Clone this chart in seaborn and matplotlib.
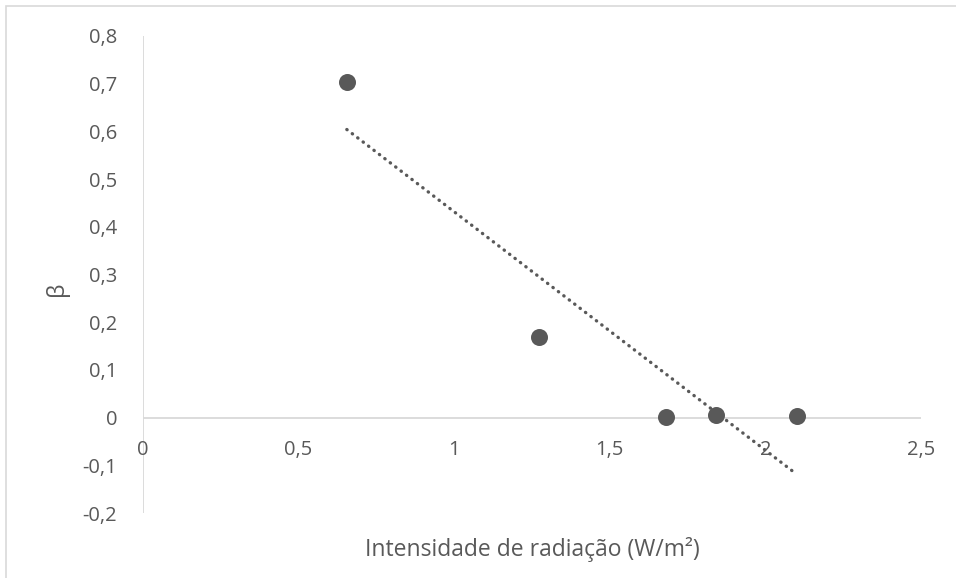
import numpy as np
import pandas as pd
import matplotlib
matplotlib.use("Agg")
import matplotlib.pyplot as plt
import seaborn as sns
from matplotlib.patches import Rectangle

intensity = [0.655, 1.272, 1.68, 1.84, 2.10]
beta = [0.704, 0.168, 0.002, 0.006, 0.004]
x_ticks = [0, 0.5, 1, 1.5, 2, 2.5]
x_tick_labels = ["0", "0,5", "1", "1,5", "2", "2,5"]
y_ticks = [-0.2, -0.1, 0, 0.1, 0.2, 0.3, 0.4, 0.5, 0.6, 0.7, 0.8]
y_tick_labels = ["-0,2", "-0,1", "0", "0,1", "0,2", "0,3", "0,4", "0,5", "0,6", "0,7", "0,8"]

sns.set_style("white")
plt.rcParams['font.family'] = ['Open Sans', 'DejaVu Sans']
txt = "#595959"
grid = "#d9d9d9"

df = pd.DataFrame({"x": intensity, "y": beta})

fig = plt.figure(figsize=(9.56, 5.78), dpi=100)
ax = fig.add_axes([143/956, 65/578, (921-143)/956, (513-36)/578])

# trendline (linear least squares)
slope, icpt = np.polyfit(df["x"], df["y"], 1)
xs = np.array([df["x"].min(), df["x"].max()])
ax.plot(xs, slope*xs + icpt, color=txt, lw=2.4,
        linestyle=(0, (0.1, 1.95)), dash_capstyle="round", zorder=3)

sns.scatterplot(data=df, x="x", y="y", ax=ax, s=150, color=txt,
                edgecolor=txt, linewidth=0, zorder=4)

ax.set_xlim(0, 2.5)
ax.set_ylim(-0.2, 0.8)
for s in ax.spines.values():
    s.set_visible(False)
ax.axhline(0, color=grid, lw=1.3, zorder=1)
ax.axvline(0, color=grid, lw=1.3, zorder=1)
ax.set_xticks(x_ticks)
ax.set_xticklabels([])
ax.set_yticks(y_ticks)
ax.set_yticklabels(y_tick_labels, color=txt, fontsize=14.5)
ax.tick_params(axis="both", length=0)
ax.tick_params(axis="y", pad=18.5)
for xv, lab in zip(x_ticks, x_tick_labels):
    ax.text(xv, -0.067, lab, ha="center", va="center", color=txt, fontsize=14.5)
ax.set_xlabel("")
ax.set_ylabel("")
fig.text(532/956, 1 - 550/578, "Intensidade de radiação (W/m²)", ha="center",
         va="center", color=txt, fontsize=16.5)
fig.text(57/956, 1 - 289/578, "β", ha="center", va="center", rotation=90,
         color=txt, fontsize=16.5)

fig.patches.append(Rectangle((6/956, -0.01), 1.0, 1 - 6/578 + 0.01,
                             transform=fig.transFigure, fill=False,
                             edgecolor="#d9d9d9", lw=1.2))
fig.savefig("out.png", dpi=100, facecolor="white")
